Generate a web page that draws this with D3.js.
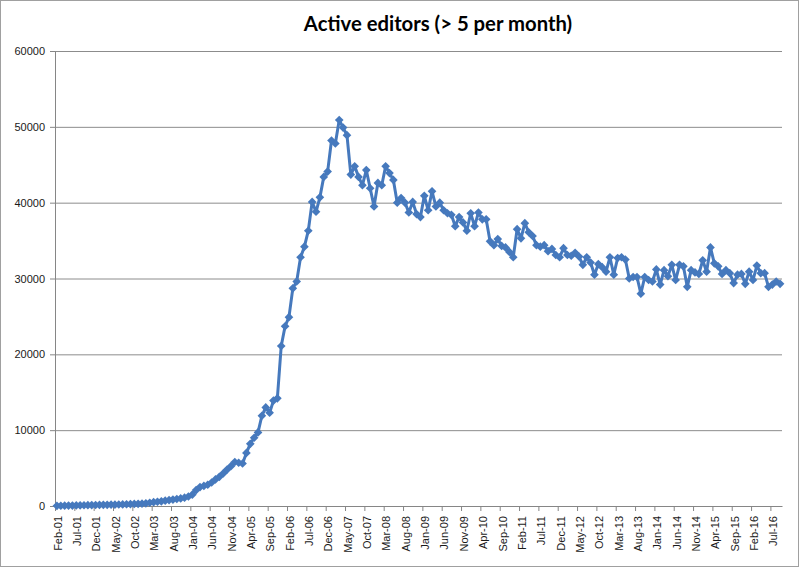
<!DOCTYPE html>
<html>
<head>
<meta charset="utf-8">
<script src="https://cdn.jsdelivr.net/npm/d3@7"></script>
<style>
  html, body { margin: 0; padding: 0; background: #fff; }
  svg { display: block; font-family: Lato, "Open Sans", sans-serif; }
  .axis path, .axis line { stroke: #868686; }
  .axis text { fill: #1a1a1a; font-size: 11px; }
  .grid line { stroke: #8c8c8c; }
  .grid path { display: none; }
</style>
</head>
<body>
<div id="chart"></div>
<script>
// monthly active editors (> 5 edits), Feb-01 .. Sep-16
const START = "2001-02-01";
const editors = [
  20, 30, 40, 50, 60, 80, 90, 100, 110, 120,
  130, 140, 150, 160, 170, 180, 200, 210, 230, 250,
  270, 290, 310, 350, 430, 500, 560, 620, 700, 780,
  850, 920, 1000, 1100, 1250, 1500, 2100, 2500, 2650, 2800,
  3100, 3500, 3850, 4300, 4800, 5250, 5800, 5700, 5600, 7000,
  8200, 9000, 9700, 11900, 13000, 12300, 13900, 14200, 21100, 23700,
  24900, 28700, 29600, 32800, 34200, 36300, 40100, 38800, 40700, 43400,
  44100, 48200, 47800, 50900, 49900, 48900, 43700, 44800, 43400, 42300,
  44300, 41900, 39500, 42600, 42300, 44800, 43900, 43000, 40000, 40600,
  40000, 38700, 40100, 38500, 38100, 40900, 39000, 41500, 39500, 40000,
  39000, 38600, 38400, 36900, 38100, 37400, 36300, 38600, 36900, 38700,
  37800, 37800, 34900, 34400, 35200, 34300, 34100, 33500, 32800, 36500,
  35300, 37300, 36100, 35600, 34400, 34200, 34400, 33600, 33900, 33100,
  32800, 34000, 33100, 33000, 33400, 32900, 31800, 32800, 32100, 30500,
  31900, 31500, 30900, 32800, 30500, 32700, 32800, 32500, 30000, 30200,
  30200, 28000, 30200, 29800, 29600, 31200, 29200, 31100, 30300, 31800,
  29800, 31800, 31600, 28900, 31100, 30800, 30600, 32400, 30900, 34100,
  32000, 31600, 30600, 31100, 30700, 29400, 30500, 30600, 29300, 30900,
  29800, 31700, 30700, 30700, 28900, 29200, 29600, 29300
];
const xTickLabels = [
  "Feb-01", "Jul-01", "Dec-01", "May-02", "Oct-02", "Mar-03", "Aug-03", "Jan-04",
  "Jun-04", "Nov-04", "Apr-05", "Sep-05", "Feb-06", "Jul-06", "Dec-06", "May-07",
  "Oct-07", "Mar-08", "Aug-08", "Jan-09", "Jun-09", "Nov-09", "Apr-10", "Sep-10",
  "Feb-11", "Jul-11", "Dec-11", "May-12", "Oct-12", "Mar-13", "Aug-13", "Jan-14",
  "Jun-14", "Nov-14", "Apr-15", "Sep-15", "Feb-16", "Jul-16"
];
const yTicks = [0, 10000, 20000, 30000, 40000, 50000, 60000];
const TITLE = "Active editors (> 5 per month)";
const LABEL_EVERY = 5;

const width = 800, height = 569;
const m = { top: 51, right: 18, bottom: 63, left: 55 };
const blue = "#4679bd";

const months = d3.utcMonth.range(new Date(START), d3.utcMonth.offset(new Date(START), editors.length));
const data = months.map((d, i) => ({ d, i, v: editors[i] }));

const svg = d3.select("#chart").append("svg")
  .attr("width", width).attr("height", height)
  .attr("viewBox", `0 0 ${width} ${height}`);

// chart area border
svg.append("rect")
  .attr("x", 0.5).attr("y", 0.5)
  .attr("width", width - 2).attr("height", height - 3)
  .attr("fill", "#fff").attr("stroke", "#a0a0a0");

const x = d3.scaleBand(d3.range(editors.length), [m.left, width - m.right]).padding(0);
const xEdge = d3.scaleLinear([0, editors.length], [m.left, width - m.right]);
const y = d3.scaleLinear([0, 60000], [height - m.bottom, m.top]);

// horizontal gridlines
svg.append("g").attr("class", "grid")
  .attr("transform", `translate(${m.left},0)`)
  .call(d3.axisLeft(y).tickValues(yTicks.slice(1)).tickFormat("")
    .tickSize(-(width - m.left - m.right)));

// y axis
svg.append("g").attr("class", "axis")
  .attr("transform", `translate(${m.left},0)`)
  .call(d3.axisLeft(y).tickValues(yTicks).tickFormat(d3.format("d"))
    .tickSize(5).tickPadding(5).tickSizeOuter(0));

// x axis: tick marks sit on category boundaries, labels on categories
svg.append("g").attr("class", "axis")
  .attr("transform", `translate(0,${height - m.bottom})`)
  .call(d3.axisBottom(xEdge).tickValues(d3.range(0, editors.length + 1, LABEL_EVERY))
    .tickFormat("").tickSize(5).tickSizeOuter(0));

const xl = svg.append("g").attr("class", "axis")
  .attr("transform", `translate(0,${height - m.bottom})`)
  .call(d3.axisBottom(x).tickValues(d3.range(0, editors.length, LABEL_EVERY))
    .tickFormat(i => xTickLabels[i / LABEL_EVERY]).tickSize(0));
xl.select(".domain").remove();
xl.selectAll("text")
  .attr("transform", "rotate(-90)")
  .attr("text-anchor", "end")
  .attr("x", -10).attr("y", 1)
  .attr("dy", "0.35em");

// series line + diamond markers
const cx = d => x(d.i) + x.bandwidth() / 2;
svg.append("path")
  .attr("fill", "none").attr("stroke", blue)
  .attr("stroke-width", 3).attr("stroke-linejoin", "round")
  .attr("d", d3.line().x(cx).y(d => y(d.v))(data));

svg.append("g").selectAll("path").data(data).join("path")
  .attr("transform", d => `translate(${cx(d)},${y(d.v)})`)
  .attr("d", d3.symbol(d3.symbolDiamond2, 48))
  .attr("fill", blue);

// title
svg.append("text")
  .attr("x", 438).attr("y", 31)
  .attr("text-anchor", "middle")
  .attr("font-size", 20.3).attr("font-weight", 700)
  .attr("fill", "#000")
  .text(TITLE);
</script>
</body>
</html>
